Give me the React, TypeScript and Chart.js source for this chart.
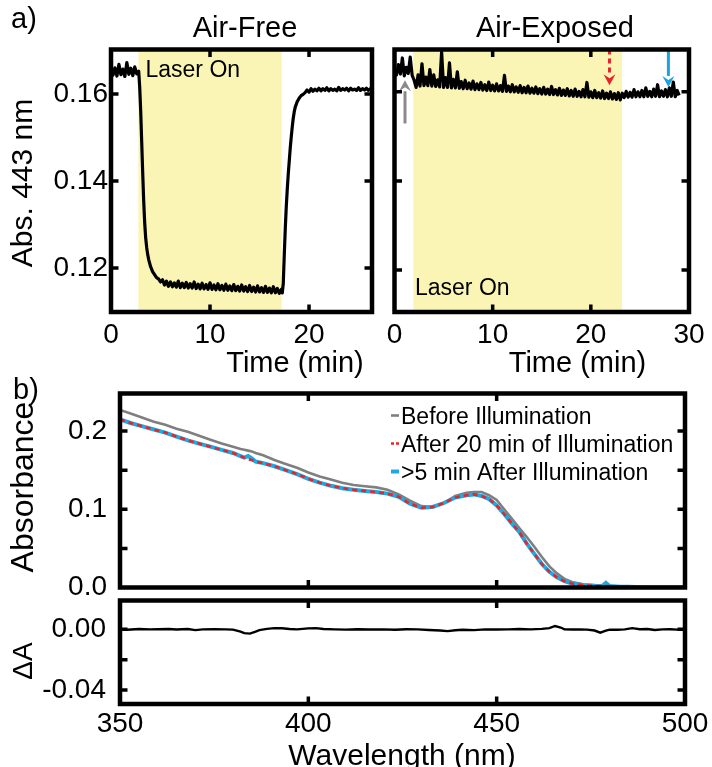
import React, { useEffect, useRef } from 'react';
import { Chart, registerables } from 'chart.js';

Chart.register(...registerables);

const FONT = "'Liberation Sans', Arial, Helvetica, sans-serif";
const YELLOW = 'rgb(250,245,180)';

// ---------- a) Air-Free trace ----------
const AF_TIME = [
  0, 0.2, 0.4, 0.6, 0.8, 1.0, 1.2, 1.4, 1.6, 1.8, 2.0, 2.2, 2.4, 2.6, 2.8, 2.9, 3.0, 3.1, 3.2, 3.3, 3.4, 3.5, 3.6, 3.7, 3.8,
  4.0, 4.2, 4.4, 4.6, 4.8, 5.0, 5.2, 5.4, 5.6, 5.8, 6.0, 6.2, 6.4, 6.6, 6.8, 7.0, 7.2, 7.4, 7.6, 7.8, 8.0, 8.2, 8.4, 8.6,
  8.8, 9.0, 9.2, 9.4, 9.6, 9.8, 10.0, 10.2, 10.4, 10.6, 10.8, 11.0, 11.2, 11.4, 11.6, 11.8, 12.0, 12.2, 12.4, 12.6, 12.8,
  13.0, 13.2, 13.4, 13.6, 13.8, 14.0, 14.2, 14.4, 14.6, 14.8, 15.0, 15.2, 15.4, 15.6, 15.8, 16.0, 16.2, 16.4, 16.6, 16.8,
  17.0, 17.2, 17.3, 17.4, 17.5, 17.6, 17.7, 17.8, 17.9, 18.0, 18.1, 18.2, 18.3, 18.4, 18.5, 18.6, 18.8, 19.0, 19.2, 19.4,
  19.6, 19.8, 20.0, 20.2, 20.4, 20.6, 20.8, 21.0, 21.2, 21.4, 21.6, 21.8, 22.0, 22.2, 22.4, 22.6, 22.8, 23.0, 23.2, 23.4,
  23.6, 23.8, 24.0, 24.2, 24.4, 24.6, 24.8, 25.0, 25.2, 25.4, 25.6, 25.8, 26.0, 26.2, 26.4,
];
const AF_ABS = [
  0.1650, 0.1643, 0.1660, 0.1641, 0.1668, 0.1644, 0.1657, 0.1640, 0.1672, 0.1645, 0.1659, 0.1642, 0.1662, 0.1646, 0.1652,
  0.1615, 0.1560, 0.1490, 0.1420, 0.1355, 0.1305, 0.1270, 0.1248, 0.1232, 0.1220,
  0.1203, 0.1192, 0.1185, 0.1178, 0.1175, 0.1168, 0.1173, 0.1161, 0.1170, 0.1158, 0.1168, 0.1157, 0.1166, 0.1156, 0.1170,
  0.1155, 0.1165, 0.1155, 0.1167, 0.1154, 0.1164, 0.1154, 0.1168, 0.1153, 0.1163, 0.1152, 0.1165, 0.1152, 0.1162, 0.1151,
  0.1166, 0.1151, 0.1161, 0.1150, 0.1164, 0.1150, 0.1160, 0.1149, 0.1163, 0.1149, 0.1159, 0.1148, 0.1162, 0.1148, 0.1158,
  0.1147, 0.1161, 0.1147, 0.1157, 0.1146, 0.1160, 0.1146, 0.1156, 0.1145, 0.1159, 0.1145, 0.1155, 0.1144, 0.1158, 0.1144,
  0.1154, 0.1143, 0.1157, 0.1143, 0.1153, 0.1142, 0.1151, 0.1143, 0.1165, 0.1230, 0.1290, 0.1340, 0.1380, 0.1415, 0.1445,
  0.1475, 0.1500, 0.1523, 0.1543, 0.1558, 0.1569, 0.1582, 0.1590, 0.1596, 0.1599, 0.1603, 0.1609, 0.1604, 0.1612, 0.1606,
  0.1611, 0.1607, 0.1613, 0.1607, 0.1612, 0.1608, 0.1614, 0.1607, 0.1612, 0.1608, 0.1611, 0.1607, 0.1615, 0.1608, 0.1612,
  0.1609, 0.1613, 0.1607, 0.1613, 0.1609, 0.1611, 0.1608, 0.1614, 0.1608, 0.1612, 0.1609, 0.1613, 0.1608, 0.1612, 0.1609,
];
const AF_LASER = [2.75, 17.25];

// ---------- a) Air-Exposed trace ----------
const AE_TIME = [
  0, 0.2, 0.4, 0.6, 0.8, 1.0, 1.2, 1.4, 1.6, 1.8, 2.0, 2.2, 2.4, 2.6, 2.8, 3.0, 3.2, 3.4, 3.6, 3.8, 4.0, 4.2, 4.4, 4.6,
  4.8, 5.0, 5.2, 5.4, 5.6, 5.8, 6.0, 6.2, 6.4, 6.6, 6.8, 7.0, 7.2, 7.4, 7.6, 7.8, 8.0, 8.2, 8.4, 8.6, 8.8, 9.0, 9.2, 9.4,
  9.6, 9.8, 10.0, 10.2, 10.4, 10.6, 10.8, 11.0, 11.2, 11.4, 11.6, 11.8, 12.0, 12.2, 12.4, 12.6, 12.8, 13.0, 13.2, 13.4,
  13.6, 13.8, 14.0, 14.2, 14.4, 14.6, 14.8, 15.0, 15.2, 15.4, 15.6, 15.8, 16.0, 16.2, 16.4, 16.6, 16.8, 17.0, 17.2, 17.4,
  17.6, 17.8, 18.0, 18.2, 18.4, 18.6, 18.8, 19.0, 19.2, 19.4, 19.6, 19.8, 20.0, 20.2, 20.4, 20.6, 20.8, 21.0, 21.2, 21.4,
  21.6, 21.8, 22.0, 22.2, 22.4, 22.6, 22.8, 23.0, 23.2, 23.4, 23.6, 23.8, 24.0, 24.2, 24.4, 24.6, 24.8, 25.0, 25.2, 25.4,
  25.6, 25.8, 26.0, 26.2, 26.4, 26.6, 26.8, 27.0, 27.2, 27.4, 27.6, 27.8, 28.0, 28.2, 28.4, 28.6, 28.8, 29.0,
];
const AE_ABS = [
  0.1650, 0.1638, 0.1661, 0.1640, 0.1676, 0.1636, 0.1655, 0.1641, 0.1678, 0.1637, 0.1626, 0.1610, 0.1638, 0.1613, 0.1663,
  0.1614, 0.1633, 0.1614, 0.1650, 0.1613, 0.1638, 0.1612, 0.1627, 0.1611, 0.1690, 0.1610, 0.1632, 0.1610, 0.1665, 0.1609,
  0.1628, 0.1609, 0.1645, 0.1608, 0.1623, 0.1607, 0.1626, 0.1607, 0.1620, 0.1606, 0.1624, 0.1605, 0.1618, 0.1605, 0.1621,
  0.1604, 0.1616, 0.1603, 0.1622, 0.1603, 0.1615, 0.1602, 0.1618, 0.1602, 0.1614, 0.1601, 0.1637, 0.1601, 0.1613, 0.1600,
  0.1616, 0.1600, 0.1611, 0.1599, 0.1614, 0.1598, 0.1610, 0.1598, 0.1613, 0.1597, 0.1608, 0.1597, 0.1611, 0.1596, 0.1607,
  0.1595, 0.1610, 0.1595, 0.1606, 0.1594, 0.1612, 0.1594, 0.1605, 0.1593, 0.1608, 0.1592, 0.1604, 0.1592, 0.1607, 0.1591,
  0.1603, 0.1590, 0.1606, 0.1590, 0.1601, 0.1589, 0.1605, 0.1589, 0.1621, 0.1588, 0.1600, 0.1587, 0.1603, 0.1587, 0.1598,
  0.1586, 0.1602, 0.1585, 0.1597, 0.1585, 0.1600, 0.1584, 0.1596, 0.1583, 0.1598, 0.1582, 0.1597, 0.1587, 0.1601, 0.1588,
  0.1599, 0.1588, 0.1605, 0.1589, 0.1600, 0.1589, 0.1603, 0.1589, 0.1609, 0.1590, 0.1601, 0.1589, 0.1606, 0.1590, 0.1616,
  0.1589, 0.1602, 0.1590, 0.1605, 0.1589, 0.1609, 0.1590, 0.1622, 0.1589, 0.1603, 0.1592,
];
const AE_LASER = [1.9, 23.2];

// arrows in the Air-Exposed panel: gray (before), red dashed (after 20 min), blue (>5 min after)
const ARROW_TIME = [1.07, 21.9, 27.9];
const ARROW_FROM = [0.1529, 0.1695, 0.1695];
const ARROW_TO = [0.1626, 0.1615, 0.1611];
const ARROW_COLOR = ['#8a8a8a', '#e8242b', '#1ba3e0'];
const ARROW_DASHED = [false, true, false];

// ---------- a) axes ----------
const AF_X_RANGE = [0, 26.36];
const AE_X_RANGE = [0, 30];
const AF_Y_RANGE = [0.1099, 0.1702];
const AE_Y_RANGE = [0.1106, 0.1695];
const A_X_TICKS_LEFT = [0, 10, 20];
const A_X_TICKS_RIGHT = [0, 10, 20, 30];
const A_Y_TICKS = [0.12, 0.14, 0.16];
const A_Y_LABELS = ['0.12', '0.14', '0.16'];

// ---------- b) spectra ----------
const WAVELENGTH = [
  350, 353, 356, 359, 362, 365, 368, 371, 374, 377, 380, 382, 383, 384, 385, 386, 388, 391, 394, 397, 400, 403, 406,
  409, 412, 415, 418, 421, 424, 427, 430, 433, 436, 439, 442, 444, 446, 448, 450, 452, 454, 456, 458, 460, 462, 464,
  466, 468, 470, 473, 476, 478, 479, 480, 482, 485, 490, 495, 500,
];
const ABS_BEFORE = [
  0.227, 0.222, 0.217, 0.212, 0.208, 0.203, 0.199, 0.194, 0.189, 0.184, 0.180, 0.177, 0.176, 0.175, 0.174, 0.172, 0.169,
  0.163, 0.158, 0.153, 0.147, 0.142, 0.138, 0.134, 0.131, 0.1295, 0.128, 0.125, 0.119, 0.111, 0.104, 0.103, 0.108,
  0.117, 0.121, 0.122, 0.122, 0.118, 0.112, 0.100, 0.088, 0.076, 0.0645, 0.052, 0.039, 0.027, 0.018, 0.011, 0.007,
  0.004, 0.003, 0.002, 0.002, 0.002, 0.002, 0.001, 0.001, 0.001, 0.001,
];
const ABS_AFTER_20 = [
  0.215, 0.210, 0.206, 0.202, 0.198, 0.193, 0.188, 0.184, 0.180, 0.176, 0.172, 0.168, 0.166, 0.164, 0.163, 0.161, 0.159,
  0.155, 0.150, 0.145, 0.139, 0.134, 0.130, 0.127, 0.125, 0.1235, 0.122, 0.120, 0.116, 0.107, 0.102, 0.103, 0.108,
  0.115, 0.118, 0.119, 0.117, 0.113, 0.105, 0.094, 0.082, 0.071, 0.056, 0.043, 0.030, 0.020, 0.013, 0.008, 0.005,
  0.003, 0.002, 0.002, 0.002, 0.002, 0.001, 0.001, 0.000, 0.000, 0.000,
];
const ABS_AFTER_5 = [
  0.215, 0.210, 0.206, 0.202, 0.198, 0.193, 0.188, 0.184, 0.180, 0.176, 0.172, 0.168, 0.166, 0.168, 0.165, 0.161, 0.159,
  0.155, 0.150, 0.145, 0.139, 0.134, 0.130, 0.127, 0.125, 0.1235, 0.122, 0.120, 0.116, 0.107, 0.102, 0.103, 0.108,
  0.115, 0.118, 0.119, 0.117, 0.113, 0.105, 0.094, 0.082, 0.071, 0.056, 0.043, 0.030, 0.020, 0.013, 0.008, 0.005,
  0.003, 0.002, 0.002, 0.006, 0.002, 0.001, 0.001, 0.000, 0.000, 0.000,
];
const SPECTRA_LABELS = ['Before Illumination', 'After 20 min of Illumination', '>5 min After Illumination'];
const B_X_RANGE = [350, 500];
const B_Y_RANGE = [0, 0.248];
const B_X_TICKS = [350, 400, 450, 500];
const B_X_LABELS = ['350', '400', '450', '500'];
const B_Y_TICKS = [0, 0.05, 0.1, 0.15, 0.2];
const B_Y_LABELS = ['0.0', '', '0.1', '', '0.2'];

// ---------- ΔA ----------
const DA_WAVELENGTH = [
  350, 352, 355, 358, 360, 363, 365, 368, 370, 372, 375, 378, 380, 382, 383, 384.5, 386, 387, 389, 391, 393, 395, 397,
  400, 402, 404, 407, 410, 413, 416, 420, 423, 426, 429, 432, 435, 437, 439, 441, 444, 447, 450, 453, 456, 459, 462,
  464, 465.5, 467, 468, 470, 472, 474, 476, 477.5, 479, 480, 482, 484, 486, 488, 490, 492, 494, 496, 498, 500,
];
const DA_VALUES = [
  0, -0.0003, 0.0002, 0, 0.0001, 0.0002, -0.0001, 0.0002, -0.0005, 0, 0.0001, 0, -0.0002, -0.0015, -0.0025, -0.0028,
  -0.0015, -0.0005, 0.0003, 0.0008, 0.0007, 0.0002, 0, 0.0006, 0.0008, 0.0002, 0, -0.0002, 0.0001, -0.0001, 0, -0.0003,
  0.0001, 0, -0.0004, -0.0008, -0.0012, -0.0006, -0.0003, -0.0005, 0, -0.0001, 0, 0.0002, 0, 0.0003, 0.0008, 0.0022,
  0.0012, 0, -0.0001, 0, -0.0002, -0.0008, -0.0022, -0.0008, -0.0002, -0.0003, 0, 0.0008, 0.0001, 0.0002, -0.0004, 0,
  0.0001, -0.0002, 0,
];
const DA_Y_RANGE = [-0.0492, 0.019];
const DA_Y_TICKS = [-0.04, -0.02, 0];
const DA_Y_LABELS = ['-0.04', '', '0.00'];

// ---------- helpers ----------
type Txt = { t: string; x: number; y: number; size: number; align?: CanvasTextAlign; rot?: boolean };

function drawTexts(ctx: CanvasRenderingContext2D, texts: Txt[]) {
  for (const s of texts) {
    ctx.save();
    ctx.fillStyle = '#000';
    ctx.font = `${s.size}px ${FONT}`;
    if (s.rot) {
      ctx.translate(s.x, s.y);
      ctx.rotate(-Math.PI / 2);
      ctx.textAlign = 'center';
      ctx.textBaseline = 'middle';
      ctx.fillText(s.t, 0, 0);
    } else {
      ctx.textAlign = s.align || 'left';
      ctx.textBaseline = 'alphabetic';
      ctx.fillText(s.t, s.x, s.y);
    }
    ctx.restore();
  }
}

function decor(id: string, texts: Txt[], extra?: (chart: any) => void, frameWidth = 4.5) {
  return {
    id,
    afterDatasetsDraw(chart: any) {
      if (extra) extra(chart);
    },
    afterDraw(chart: any) {
      const { ctx, chartArea: a } = chart;
      const xs = chart.scales.x;
      const ys = chart.scales.y;
      ctx.save();
      ctx.strokeStyle = '#000';
      ctx.lineWidth = frameWidth;
      ctx.lineJoin = 'miter';
      ctx.strokeRect(a.left, a.top, a.right - a.left, a.bottom - a.top);
      ctx.lineWidth = 3.5;
      ctx.lineCap = 'butt';
      const L = 7.5;
      ctx.beginPath();
      for (const tk of xs.ticks) {
        const p = xs.getPixelForValue(tk.value);
        if (p < a.left + 4 || p > a.right - 4) continue;
        ctx.moveTo(p, a.top);
        ctx.lineTo(p, a.top + L);
        ctx.moveTo(p, a.bottom);
        ctx.lineTo(p, a.bottom - L);
      }
      for (const tk of ys.ticks) {
        const p = ys.getPixelForValue(tk.value);
        if (p < a.top + 4 || p > a.bottom - 4) continue;
        ctx.moveTo(a.left, p);
        ctx.lineTo(a.left + L, p);
        ctx.moveTo(a.right, p);
        ctx.lineTo(a.right - L, p);
      }
      ctx.stroke();
      ctx.restore();
      drawTexts(ctx, texts);
    },
  };
}

function axis(
  range: number[],
  tickVals: number[],
  labels: string[] | null,
  forced: { width?: number; height?: number },
  pad: number,
) {
  return {
    type: 'linear',
    min: range[0],
    max: range[1],
    bounds: 'data',
    grid: { display: false, drawTicks: false },
    border: { display: false },
    afterBuildTicks: (s: any) => {
      s.ticks = tickVals.map((v) => ({ value: v }));
    },
    afterFit: (s: any) => {
      if (forced.width !== undefined) s.width = forced.width;
      if (forced.height !== undefined) s.height = forced.height;
    },
    ticks: {
      display: !!labels,
      autoSkip: false,
      maxRotation: 0,
      minRotation: 0,
      padding: pad,
      color: '#000',
      font: { family: FONT, size: 28 },
      callback: (_v: any, i: number) => (labels ? labels[i] : ''),
    },
  };
}

const pts = (xs: number[], ys: number[]) => xs.map((x, i) => ({ x, y: ys[i] }));

function baseOptions(padding: any, scales: any) {
  return {
    responsive: false,
    animation: false,
    events: [],
    layout: { padding },
    plugins: { legend: { display: false }, tooltip: { enabled: false }, title: { display: false } },
    scales,
  };
}

function laserBand(range: number[], yTop: number) {
  return {
    data: [
      { x: range[0], y: yTop },
      { x: range[1], y: yTop },
    ],
    fill: 'start',
    backgroundColor: YELLOW,
    borderColor: 'rgba(0,0,0,0)',
    borderWidth: 0,
    pointRadius: 0,
    order: 2,
  };
}

function traceSet(xs: number[], ys: number[]) {
  return {
    data: pts(xs, ys),
    borderColor: '#000',
    borderWidth: 3.2,
    borderJoinStyle: 'round',
    pointRadius: 0,
    tension: 0,
    fill: false,
    order: 1,
  };
}

function drawArrows(chart: any) {
  const { ctx } = chart;
  const xs = chart.scales.x;
  const ys = chart.scales.y;
  ARROW_TIME.forEach((t, i) => {
    const x = xs.getPixelForValue(t);
    const y0 = ys.getPixelForValue(ARROW_FROM[i]);
    const y1 = ys.getPixelForValue(ARROW_TO[i]);
    const dir = y1 > y0 ? 1 : -1;
    const head = 11;
    ctx.save();
    ctx.strokeStyle = ARROW_COLOR[i];
    ctx.fillStyle = ARROW_COLOR[i];
    ctx.lineWidth = 3;
    ctx.setLineDash(ARROW_DASHED[i] ? [5, 4] : []);
    ctx.beginPath();
    ctx.moveTo(x, y0);
    ctx.lineTo(x, y1 - dir * head);
    ctx.stroke();
    ctx.setLineDash([]);
    ctx.beginPath();
    ctx.moveTo(x, y1);
    ctx.lineTo(x - 6, y1 - dir * head);
    ctx.lineTo(x, y1 - dir * (head - 4));
    ctx.lineTo(x + 6, y1 - dir * head);
    ctx.closePath();
    ctx.fill();
    ctx.restore();
  });
}

function drawSpectraLegend(chart: any) {
  const { ctx } = chart;
  const order = [2, 0, 1];
  const base = [423.5, 451.5, 479.5];
  order.forEach((di, row) => {
    const ds = chart.data.datasets[di];
    const y = base[row] - 8;
    ctx.save();
    ctx.strokeStyle = ds.borderColor;
    ctx.lineWidth = ds.borderWidth;
    ctx.setLineDash(ds.borderDash ? [3, 2] : []);
    ctx.beginPath();
    ctx.moveTo(391, y);
    ctx.lineTo(399, y);
    ctx.stroke();
    ctx.restore();
    drawTexts(ctx, [{ t: SPECTRA_LABELS[row], x: 401, y: base[row], size: 23 }]);
  });
}

export default function App() {
  const r1 = useRef<HTMLCanvasElement>(null);
  const r2 = useRef<HTMLCanvasElement>(null);
  const r3 = useRef<HTMLCanvasElement>(null);
  const r4 = useRef<HTMLCanvasElement>(null);

  useEffect(() => {
    const charts: Chart[] = [];

    // Air-Free
    charts.push(
      new Chart(r1.current as HTMLCanvasElement, {
        type: 'line',
        data: { datasets: [traceSet(AF_TIME, AF_ABS), laserBand(AF_LASER, AF_Y_RANGE[1])] as any },
        options: baseOptions(
          { left: 0, right: 340, top: 49.5, bottom: 405 },
          {
            x: axis(AF_X_RANGE, A_X_TICKS_LEFT, ['0', '10', '20'], { height: 50 }, 6),
            y: axis(AF_Y_RANGE, A_Y_TICKS, A_Y_LABELS, { width: 111 }, 3),
          },
        ) as any,
        plugins: [
          decor('afDecor', [
            { t: 'a)', x: 11, y: 28, size: 29 },
            { t: 'Air-Free', x: 245, y: 36.7, size: 29, align: 'center' },
            { t: 'Laser On', x: 145.5, y: 77, size: 23 },
            { t: 'Time (min)', x: 295, y: 372, size: 29, align: 'center' },
            { t: 'Abs. 443 nm', x: 24, y: 183, size: 30, rot: true },
          ]),
        ],
      }),
    );

    // Air-Exposed
    charts.push(
      new Chart(r2.current as HTMLCanvasElement, {
        type: 'line',
        data: { datasets: [traceSet(AE_TIME, AE_ABS), laserBand(AE_LASER, AE_Y_RANGE[1])] as any },
        options: baseOptions(
          { left: 0, right: 23, top: 49.5, bottom: 405 },
          {
            x: axis(AE_X_RANGE, A_X_TICKS_RIGHT, ['0', '10', '20', '30'], { height: 50 }, 6),
            y: axis(AE_Y_RANGE, A_Y_TICKS, null, { width: 394.5 }, 3),
          },
        ) as any,
        plugins: [
          decor(
            'aeDecor',
            [
              { t: 'Air-Exposed', x: 555, y: 36.7, size: 29, align: 'center' },
              { t: 'Laser On', x: 415, y: 295, size: 23 },
              { t: 'Time (min)', x: 577.5, y: 372, size: 29, align: 'center' },
            ],
            drawArrows,
          ),
        ],
      }),
    );

    // b) spectra
    charts.push(
      new Chart(r3.current as HTMLCanvasElement, {
        type: 'line',
        data: {
          datasets: [
            {
              label: SPECTRA_LABELS[1],
              data: pts(WAVELENGTH, ABS_AFTER_20),
              borderColor: '#e8242b',
              borderWidth: 2.6,
              borderDash: [5, 4],
              pointRadius: 0,
              order: 1,
            },
            {
              label: SPECTRA_LABELS[2],
              data: pts(WAVELENGTH, ABS_AFTER_5),
              borderColor: '#1ea9e3',
              borderWidth: 4,
              pointRadius: 0,
              order: 2,
            },
            {
              label: SPECTRA_LABELS[0],
              data: pts(WAVELENGTH, ABS_BEFORE),
              borderColor: '#7f7f7f',
              borderWidth: 2.6,
              pointRadius: 0,
              order: 3,
            },
          ] as any,
        },
        options: baseOptions(
          { left: 0, right: 27, top: 393.5, bottom: 179.5 },
          {
            x: axis(B_X_RANGE, B_X_TICKS, null, { height: 0 }, 0),
            y: axis(B_Y_RANGE, B_Y_TICKS, B_Y_LABELS, { width: 120 }, 13),
          },
        ) as any,
        plugins: [
          decor(
            'bDecor',
            [
              { t: 'b)', x: 13, y: 399, size: 29 },
              { t: 'Absorbance', x: 24, y: 487, size: 32, rot: true },
            ],
            drawSpectraLegend,
          ),
        ],
      }),
    );

    // ΔA
    charts.push(
      new Chart(r4.current as HTMLCanvasElement, {
        type: 'line',
        data: {
          datasets: [
            {
              data: pts(DA_WAVELENGTH, DA_VALUES),
              borderColor: '#000',
              borderWidth: 2.4,
              pointRadius: 0,
            },
          ] as any,
        },
        options: baseOptions(
          { left: 0, right: 27, top: 600.5, bottom: 13 },
          {
            x: axis(B_X_RANGE, B_X_TICKS, B_X_LABELS, { height: 50 }, 3),
            y: axis(DA_Y_RANGE, DA_Y_TICKS, DA_Y_LABELS, { width: 120 }, 14),
          },
        ) as any,
        plugins: [
          decor('daDecor', [
            { t: 'ΔA', x: 24, y: 661, size: 28, rot: true },
            { t: 'Wavelength (nm)', x: 402, y: 765, size: 30, align: 'center' },
          ]),
        ],
      }),
    );

    return () => {
      charts.forEach((c) => c.destroy());
    };
  }, []);

  const cs: React.CSSProperties = { position: 'absolute', left: 0, top: 0 };
  return (
    <div
      style={{
        position: 'absolute',
        left: 0,
        top: 0,
        width: 712,
        height: 767,
        background: '#fff',
        overflow: 'hidden',
      }}
    >
      <canvas ref={r1} width={712} height={767} style={cs} />
      <canvas ref={r2} width={712} height={767} style={cs} />
      <canvas ref={r3} width={712} height={767} style={cs} />
      <canvas ref={r4} width={712} height={767} style={cs} />
    </div>
  );
}
